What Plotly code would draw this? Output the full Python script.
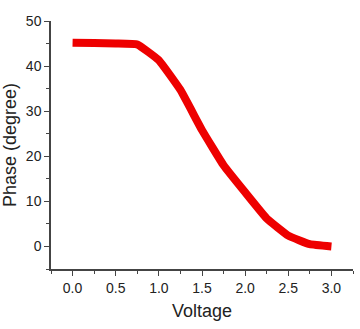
import plotly.graph_objects as go

voltage = [0.0, 0.25, 0.5, 0.75, 1.0, 1.25, 1.5, 1.75, 2.0, 2.25, 2.5, 2.75, 3.0]
phase = [45.2, 45.1, 45.0, 44.8, 41.3, 34.7, 25.8, 18.0, 12.0, 6.2, 2.4, 0.5, 0.0]

x_ticks = [0.0, 0.5, 1.0, 1.5, 2.0, 2.5, 3.0]
x_labels = ["0.0", "0.5", "1.0", "1.5", "2.0", "2.5", "3.0"]
y_ticks = [0, 10, 20, 30, 40, 50]

fig = go.Figure()
fig.add_trace(go.Scatter(x=voltage, y=phase, mode="lines",
                         line=dict(color="#ee0000", width=8, shape="spline", smoothing=0.3),
                         showlegend=False))

font = "Liberation Sans, Arial, sans-serif"
fig.update_layout(
    width=360, height=329,
    margin=dict(l=51, r=7, t=21, b=60),
    paper_bgcolor="white", plot_bgcolor="white",
    font=dict(family=font, size=14, color="#222"),
    xaxis=dict(range=[-0.25, 3.25], tickvals=x_ticks, ticktext=x_labels,
               showline=True, linecolor="#444", linewidth=1.5, mirror=False,
               ticks="outside", ticklen=5, tickcolor="#444", showgrid=False, zeroline=False,
               minor=dict(tickvals=[-0.25, 0.25, 0.75, 1.25, 1.75, 2.25, 2.75, 3.25],
                          ticks="outside", ticklen=3, tickcolor="#444"),
               title=dict(text="Voltage", font=dict(size=18), standoff=10),
               tickfont=dict(size=14)),
    yaxis=dict(range=[-5, 50], tickvals=y_ticks,
               showline=True, linecolor="#444", linewidth=1.5,
               ticks="outside", ticklen=5, tickcolor="#444", showgrid=False, zeroline=False,
               minor=dict(tickvals=[-5, 5, 15, 25, 35, 45],
                          ticks="outside", ticklen=3, tickcolor="#444"),
               title=dict(text="Phase (degree)", font=dict(size=18), standoff=6),
               tickfont=dict(size=14)),
)
fig.write_html("out.html")
